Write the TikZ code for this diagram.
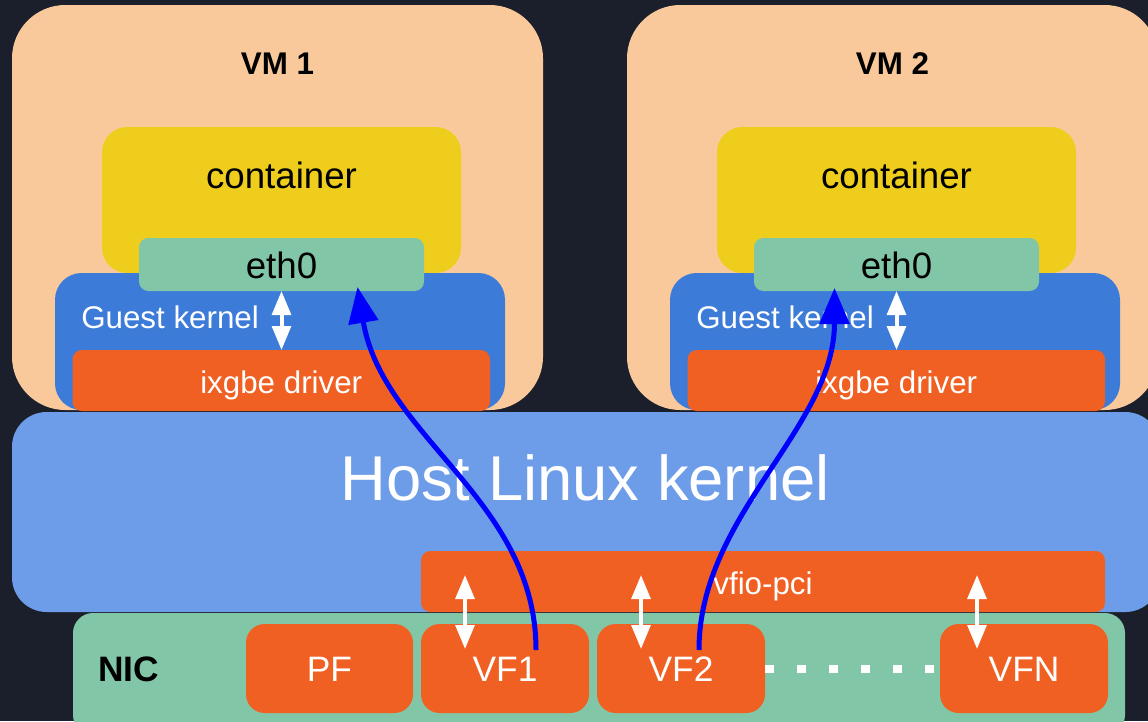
\documentclass[tikz,border=0pt]{standalone}
\usepackage{fontspec}
\setsansfont{Liberation Sans}
\usetikzlibrary{arrows.meta, calc, fit}
\definecolor{bgdark}{RGB}{27,31,43}
\definecolor{vmpeach}{RGB}{249,201,155}
\definecolor{ctryellow}{RGB}{238,205,28}
\definecolor{ethgreen}{RGB}{130,198,168}
\definecolor{guestblue}{RGB}{61,123,217}
\definecolor{drvorange}{RGB}{240,96,35}
\definecolor{hostblue}{RGB}{109,157,232}
\definecolor{flowblue}{RGB}{0,0,255}

\begin{document}
\begin{tikzpicture}[
    x=0.75pt, y=-0.75pt,
    font=\sffamily,
    bigtxt/.style   = {font=\sffamily\fontsize{27.5pt}{33pt}\selectfont},
    smalltxt/.style = {font=\sffamily\fontsize{23.5pt}{28pt}\selectfont},
    fntxt/.style    = {font=\sffamily\fontsize{26.5pt}{32pt}\selectfont},
    boldtxt/.style  = {font=\sffamily\bfseries\fontsize{23.5pt}{28pt}\selectfont},
    box/.style      = {rectangle, inner sep=0pt, outer sep=0pt},
    vm/.style       = {box, fill=vmpeach, rounded corners=40pt},
    ctr/.style      = {box, fill=ctryellow, rounded corners=19pt},
    eth/.style      = {box, fill=ethgreen, rounded corners=7pt},
    guest/.style    = {box, fill=guestblue, rounded corners=20pt},
    drv/.style      = {box, fill=drvorange, rounded corners=7pt},
    host/.style     = {box, fill=hostblue, rounded corners=26pt},
    nic/.style      = {box, fill=ethgreen, rounded corners=15pt},
    fn/.style       = {box, fill=drvorange, rounded corners=14pt},
    lbl/.style      = {inner sep=0pt, anchor=base},
    biarr/.style    = {{Triangle[width=14pt,length=18pt]}-{Triangle[width=14pt,length=18pt]},
                       white, line width=3pt},
    flow/.style     = {-{Triangle[width=22pt,length=27pt]}, flowblue, line width=3.75pt},
    dotrow/.style   = {white, line width=6pt, dash pattern=on 6.4pt off 17.6pt},
]
\path[use as bounding box, fill=bgdark] (0,0) rectangle (1148,721);
\clip (0,0) rectangle (1148,721);

% ---- virtual machines -------------------------------------------------------
\node[vm, fit={(12,5) (543,410)}] (vm1) {};
\node[vm, fit={(627,5) (1158,410)}] (vm2) {};
\node[lbl, boldtxt] (vm1lbl) at ($(vm1.north)+(0,69)$) {VM 1};
\node[lbl, boldtxt] (vm2lbl) at ($(vm2.north)+(0,69)$) {VM 2};

\node[ctr, fit={(102,127) (461,273)}] (ctr1) {};
\node[ctr, fit={(717,127) (1076,273)}] (ctr2) {};
\node[lbl, bigtxt] (ctr1lbl) at ($(ctr1.north)+(0,61)$) {container};
\node[lbl, bigtxt] (ctr2lbl) at ($(ctr2.north)+(0,61)$) {container};

\node[guest, fit={(55,273) (505,410)}] (gk1) {};
\node[guest, fit={(670,273) (1120,410)}] (gk2) {};
\node[lbl, smalltxt, text=white, anchor=base west] (gk1lbl) at ($(gk1.north west)+(26,55)$) {Guest kernel};
\node[lbl, smalltxt, text=white, anchor=base west] (gk2lbl) at ($(gk2.north west)+(26,55)$) {Guest kernel};

\node[eth, fit={(139,238) (424,291)}] (eth1) {};
\node[eth, fit={(754,238) (1039,291)}] (eth2) {};
\node[lbl, bigtxt] (eth1lbl) at ($(eth1.center)+(0,13.5)$) {eth0};
\node[lbl, bigtxt] (eth2lbl) at ($(eth2.center)+(0,13.5)$) {eth0};

\node[drv, fit={(72.5,350) (490,411)}] (drv1) {};
\node[drv, fit={(687.5,350) (1105,411)}] (drv2) {};
\node[lbl, smalltxt, text=white] (drv1lbl) at ($(drv1.center)+(0,12.5)$) {ixgbe driver};
\node[lbl, smalltxt, text=white] (drv2lbl) at ($(drv2.center)+(0,12.5)$) {ixgbe driver};

\draw[biarr] (eth1.south) -- (eth1.south |- drv1.north);
\draw[biarr] (eth2.south) -- (eth2.south |- drv2.north);

% ---- host kernel ------------------------------------------------------------
\node[host, fit={(12,412) (1160,612)}] (host) {};
\node[lbl, text=white, font=\sffamily\fontsize{47.5pt}{56pt}\selectfont] (hostlbl)
     at ($(host.north)+(-1,88)$) {Host Linux kernel};
\node[drv, fit={(421,551) (1105,612)}] (vfio) {};
\node[lbl, smalltxt, text=white] (vfiolbl) at ($(vfio.center)+(0,12.5)$) {vfio-pci};

% ---- NIC ---------------------------------------------------------------------
\node[nic, fit={(73,613) (1125,735)}] (nic) {};
\node[lbl, anchor=base west, font=\sffamily\bfseries\fontsize{26.5pt}{32pt}\selectfont] (niclbl)
     at ($(nic.north west)+(25,68)$) {NIC};
\node[fn, fit={(246,624) (413,713)}] (pf) {};
\node[fn, fit={(421,624) (589,713)}] (vf1) {};
\node[fn, fit={(597,624) (765,713)}] (vf2) {};
\node[fn, fit={(940,624) (1108,713)}] (vfn) {};
\node[lbl, fntxt, text=white] (pflbl)  at ($(pf.center)+(0,12.5)$)  {PF};
\node[lbl, fntxt, text=white] (vf1lbl) at ($(vf1.center)+(0,12.5)$) {VF1};
\node[lbl, fntxt, text=white] (vf2lbl) at ($(vf2.center)+(0,12.5)$) {VF2};
\node[lbl, fntxt, text=white] (vfnlbl) at ($(vfn.center)+(0,12.5)$) {VFN};
\draw[dotrow] (vf2.east) -- (vfn.west);

\draw[biarr] ($(vf1.north)+(-40,-49)$) -- ($(vf1.north)+(-40,25)$);
\draw[biarr] ($(vf2.north)+(-40,-49)$) -- ($(vf2.north)+(-40,25)$);
\draw[biarr] ($(vfn.north)+(-47,-49)$) -- ($(vfn.north)+(-47,25)$);

% ---- passthrough paths ------------------------------------------------------
\draw[flow] ($(vf1.north)+(31,26)$) .. controls +(0,-150) and +(25,150) .. ($(eth1.south)+(76,-4)$);
\draw[flow] ($(vf2.north)+(18,26)$) .. controls +(0,-135) and +(0,140) .. ($(eth2.south)+(-62,-3)$);
\end{tikzpicture}
\end{document}
